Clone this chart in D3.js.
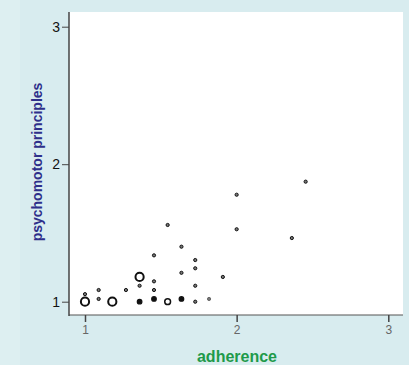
<!DOCTYPE html>
<html>
<head>
<style>
    body { margin: 0; background: #d8ecef; }
    text { font-family: "Liberation Sans", Arial, sans-serif; }
</style>
<script src="https://d3js.org/d3.v7.min.js"></script>
</head>
<body>
<svg width="409" height="365"></svg>
<script>
    // values
    var adherence = [1.0, 1.0, 1.09, 1.09, 1.18, 1.27, 1.36, 1.36, 1.36, 1.455, 1.455, 1.455, 1.455,
                     1.545, 1.545, 1.636, 1.636, 1.636, 1.727, 1.727, 1.727, 1.727, 1.818, 1.909,
                     2.0, 2.0, 2.364, 2.455];
    var psychomotor = [1.0, 1.055, 1.085, 1.02, 1.0, 1.085, 1.18, 1.116, 1.0, 1.337, 1.148, 1.085, 1.02,
                       1.558, 1.0, 1.4, 1.21, 1.02, 1.303, 1.243, 1.116, 1.0, 1.02, 1.18,
                       1.527, 1.778, 1.463, 1.873];
    var weight = [6, 1, 1, 1, 6, 1, 6, 1, 2, 1, 1, 1, 2,
                  1, 3, 1, 1, 2, 1, 1, 1, 1, 1, 1,
                  1, 1, 1, 1];
    var xTicks = [1, 2, 3];
    var yTicks = [1, 2, 3];

    var svg = d3.select("svg");

    svg.append("rect").attr("x", 0).attr("y", 0).attr("width", 20).attr("height", 365)
        .attr("fill", "#ddeff1");

    var pLeft = 69, pTop = 12, pRight = 403, pBottom = 315;

    svg.append("rect")
        .attr("x", pLeft).attr("y", pTop)
        .attr("width", pRight - pLeft).attr("height", pBottom - pTop)
        .attr("fill", "#fff");

    var x = d3.scaleLinear().domain([1, 3]).range([85, 388.3]);
    var y = d3.scaleLinear().domain([1, 3]).range([301.7, 26.7]);

    var xAxis = svg.append("g")
        .attr("transform", "translate(0," + pBottom + ")")
        .call(d3.axisBottom(x).tickValues(xTicks).tickSize(7).tickPadding(3).tickFormat(d3.format("d")));
    xAxis.select(".domain").attr("d", "M" + pLeft + ",0H" + pRight).attr("stroke", "#555").attr("stroke-width", 1.2);
    xAxis.selectAll(".tick line").attr("stroke", "#444").attr("stroke-width", 1.5);
    xAxis.selectAll(".tick text").attr("font-size", 12).attr("fill", "#666");

    var yAxis = svg.append("g")
        .attr("transform", "translate(" + pLeft + ",0)")
        .call(d3.axisLeft(y).tickValues(yTicks).tickSize(7).tickPadding(2).tickFormat(d3.format("d")));
    yAxis.select(".domain").attr("d", "M0," + pTop + "V" + (pBottom + 1)).attr("stroke", "#444").attr("stroke-width", 1.5);
    yAxis.selectAll(".tick line").attr("stroke", "#444").attr("stroke-width", 1);
    yAxis.selectAll(".tick text").attr("font-size", 14).attr("fill", "#111");

    // marker look depends on weight
    var radius = { 1: 1.6, 2: 2.3, 3: 2.9, 6: 4.1 };
    var strokeW = { 1: 1.0, 2: 1.2, 3: 1.5, 6: 2.0 };

    svg.append("g").selectAll("circle")
        .data(adherence)
        .enter().append("circle")
        .attr("cx", function (d) { return x(d); })
        .attr("cy", function (d, i) { return y(psychomotor[i]); })
        .attr("r", function (d, i) { return radius[weight[i]]; })
        .attr("fill", function (d, i) {
            if (weight[i] == 1) return "#777";
            if (weight[i] == 2) return "#111";
            return "none";
        })
        .attr("stroke", function (d, i) { return i == 22 ? "#666" : "#111"; })
        .attr("stroke-width", function (d, i) { return strokeW[weight[i]]; });

    svg.append("text")
        .attr("transform", "translate(42,162) rotate(-90)")
        .attr("text-anchor", "middle")
        .attr("font-size", 14)
        .attr("font-weight", "bold")
        .attr("fill", "#2e2f8a")
        .text("psychomotor principles");

    svg.append("text")
        .attr("x", 237).attr("y", 362)
        .attr("text-anchor", "middle")
        .attr("font-size", 16)
        .attr("font-weight", "bold")
        .attr("fill", "#1e9a4a")
        .text("adherence");
</script>
</body>
</html>
